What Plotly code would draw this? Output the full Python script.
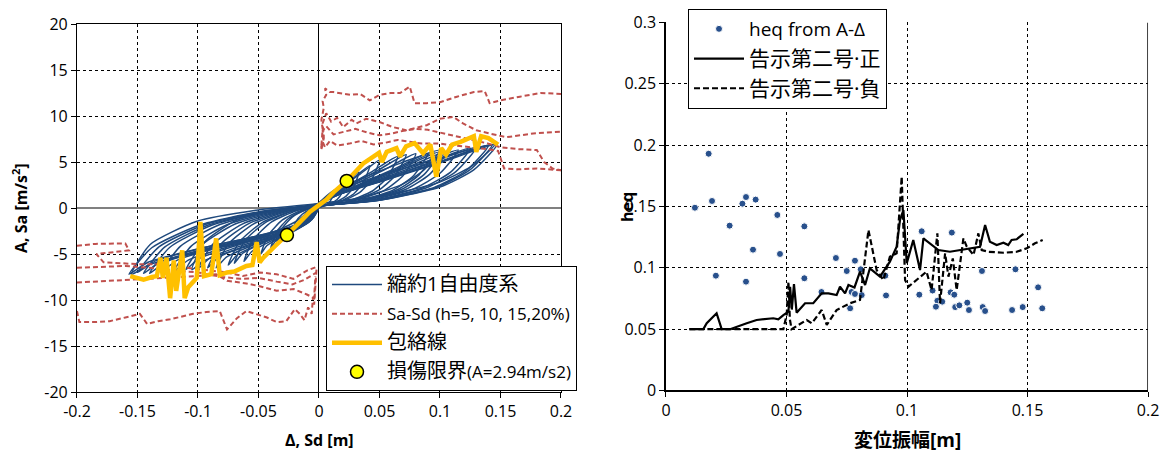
import plotly.graph_objects as go

# ---------------- left panel: A-Δ hysteresis of the reduced SDOF system ----------------
# one list per cycle (displacement [m], acceleration [m/s2])
loop_d = [
    [-0.012, -0.0106, -0.0076, -0.0036, 0, 0.0041, 0.0082, 0.0104, 0.012, 0.0082, 0.0041, 0.0014, 0, -0.0014, -0.0038, -0.0077, -0.0108, -0.012],
    [-0.022, -0.0194, -0.0139, -0.0066, 0, 0.0075, 0.015, 0.0191, 0.022, 0.015, 0.0075, 0.0026, 0, -0.0026, -0.007, -0.0141, -0.0198, -0.022],
    [-0.035, -0.0308, -0.0221, -0.0105, 0, 0.0112, 0.0224, 0.0287, 0.033, 0.0224, 0.0112, 0.004, 0, -0.0042, -0.0112, -0.0224, -0.0315, -0.035],
    [-0.04, -0.0352, -0.0252, -0.012, 0, 0.0143, 0.0286, 0.0365, 0.042, 0.0286, 0.0143, 0.005, 0, -0.0048, -0.0128, -0.0256, -0.036, -0.04],
    [-0.048, -0.0422, -0.0302, -0.0144, 0, 0.017, 0.034, 0.0435, 0.05, 0.034, 0.017, 0.006, 0, -0.0058, -0.0154, -0.0307, -0.0432, -0.048],
    [-0.062, -0.0546, -0.0391, -0.0186, 0, 0.0221, 0.0442, 0.0566, 0.065, 0.0442, 0.0221, 0.0078, 0, -0.0074, -0.0198, -0.0397, -0.0558, -0.062],
    [-0.07, -0.0616, -0.0441, -0.021, 0, 0.0245, 0.049, 0.0626, 0.072, 0.049, 0.0245, 0.0086, 0, -0.0084, -0.0224, -0.0448, -0.063, -0.07],
    [-0.085, -0.0748, -0.0536, -0.0255, 0, 0.0272, 0.0544, 0.0696, 0.08, 0.0544, 0.0272, 0.0096, 0, -0.0102, -0.0272, -0.0544, -0.0765, -0.085],
    [-0.092, -0.081, -0.058, -0.0276, 0, 0.0323, 0.0646, 0.0827, 0.095, 0.0646, 0.0323, 0.0114, 0, -0.011, -0.0294, -0.0589, -0.0828, -0.092],
    [-0.1, -0.088, -0.063, -0.03, 0, 0.034, 0.068, 0.087, 0.1, 0.068, 0.034, 0.012, 0, -0.012, -0.032, -0.064, -0.09, -0.1],
    [-0.105, -0.0945, -0.0683, -0.0315, 0, 0.034, 0.068, 0.087, 0.1, 0.068, 0.034, 0.012, 0, -0.0126, -0.0336, -0.0672, -0.0945, -0.105],
    [-0.12, -0.1056, -0.0756, -0.036, 0, 0.0391, 0.0782, 0.1, 0.115, 0.0782, 0.0391, 0.0138, 0, -0.0144, -0.0384, -0.0768, -0.108, -0.12],
    [-0.14, -0.1232, -0.0882, -0.042, 0, 0.0442, 0.0884, 0.1131, 0.13, 0.0884, 0.0442, 0.0156, 0, -0.0168, -0.0448, -0.0896, -0.126, -0.14],
    [-0.145, -0.1276, -0.0914, -0.0435, 0, 0.0486, 0.0972, 0.1244, 0.143, 0.0972, 0.0486, 0.0172, 0, -0.0174, -0.0464, -0.0928, -0.1305, -0.145],
    [-0.157, -0.1382, -0.0989, -0.0471, 0, 0.05, 0.1, 0.1279, 0.147, 0.1, 0.05, 0.0176, 0, -0.0188, -0.0502, -0.1005, -0.1413, -0.157],
    [-0.155, -0.1395, -0.1008, -0.0465, 0, 0.0493, 0.0986, 0.1262, 0.145, 0.0986, 0.0493, 0.0174, 0, -0.0186, -0.0496, -0.0992, -0.1395, -0.155],
    [-0.15, -0.132, -0.0945, -0.045, 0, 0.0476, 0.0952, 0.1218, 0.14, 0.0952, 0.0476, 0.0168, 0, -0.018, -0.048, -0.096, -0.135, -0.15],
    [-0.13, -0.1144, -0.0819, -0.039, 0, 0.0425, 0.085, 0.1088, 0.125, 0.085, 0.0425, 0.015, 0, -0.0156, -0.0416, -0.0832, -0.117, -0.13],
    [-0.11, -0.0968, -0.0693, -0.033, 0, 0.0357, 0.0714, 0.0914, 0.105, 0.0714, 0.0357, 0.0126, 0, -0.0132, -0.0352, -0.0704, -0.099, -0.11],
    [-0.075, -0.066, -0.0473, -0.0225, 0, 0.0306, 0.0612, 0.0783, 0.09, 0.0612, 0.0306, 0.0108, 0, -0.009, -0.024, -0.048, -0.0675, -0.075],
]
loop_a = [
    [-1.6, -0.96, -0.42, -0.08, 0.07, 0.2, 0.56, 1.02, 1.7, 1.21, 0.7, 0.37, 0.09, -0.4, -0.67, -0.99, -1.31, -1.6],
    [-2.6, -1.56, -0.68, -0.13, 0.11, 0.34, 0.92, 1.68, 2.8, 1.99, 1.15, 0.62, 0.14, -0.65, -1.09, -1.61, -2.13, -2.6],
    [-3.8, -2.28, -0.99, -0.19, 0.16, 0.47, 1.29, 2.34, 3.9, 2.77, 1.6, 0.86, 0.2, -0.95, -1.6, -2.36, -3.12, -3.8],
    [-4.4, -2.64, -1.14, -0.22, 0.18, 0.55, 1.52, 2.76, 4.6, 3.27, 1.89, 1.01, 0.23, -1.1, -1.85, -2.73, -3.61, -4.4],
    [-5.0, -3.0, -1.3, -0.25, 0.21, 0.62, 1.72, 3.12, 5.2, 3.69, 2.13, 1.14, 0.26, -1.25, -2.1, -3.1, -4.1, -5.0],
    [-5.8, -3.48, -1.51, -0.29, 0.22, 0.67, 1.85, 3.36, 5.6, 3.98, 2.3, 1.23, 0.28, -1.45, -2.44, -3.6, -4.76, -5.8],
    [-6.0, -3.6, -1.56, -0.3, 0.23, 0.7, 1.91, 3.48, 5.8, 4.12, 2.38, 1.28, 0.29, -1.5, -2.52, -3.72, -4.92, -6.0],
    [-6.5, -3.9, -1.69, -0.33, 0.24, 0.71, 1.95, 3.54, 5.9, 4.19, 2.42, 1.3, 0.3, -1.63, -2.73, -4.03, -5.33, -6.5],
    [-6.5, -3.9, -1.69, -0.33, 0.24, 0.72, 1.98, 3.6, 6.0, 4.26, 2.46, 1.32, 0.3, -1.63, -2.73, -4.03, -5.33, -6.5],
    [-6.6, -3.96, -1.72, -0.33, 0.24, 0.73, 2.01, 3.66, 6.1, 4.33, 2.5, 1.34, 0.31, -1.65, -2.77, -4.09, -5.41, -6.6],
    [-6.7, -3.69, -1.34, -0.13, 0.45, 1.13, 2.52, 4.16, 6.3, 4.91, 3.15, 1.89, 0.55, -1.34, -3.02, -4.49, -5.7, -6.7],
    [-6.9, -4.14, -1.79, -0.35, 0.25, 0.76, 2.08, 3.78, 6.3, 4.47, 2.58, 1.39, 0.32, -1.73, -2.9, -4.28, -5.66, -6.9],
    [-7.1, -4.26, -1.85, -0.36, 0.26, 0.79, 2.18, 3.96, 6.6, 4.69, 2.71, 1.45, 0.33, -1.78, -2.98, -4.4, -5.82, -7.1],
    [-7.1, -4.26, -1.85, -0.36, 0.27, 0.82, 2.26, 4.11, 6.85, 4.86, 2.81, 1.51, 0.34, -1.78, -2.98, -4.4, -5.82, -7.1],
    [-7.2, -4.32, -1.87, -0.36, 0.28, 0.83, 2.28, 4.14, 6.9, 4.9, 2.83, 1.52, 0.35, -1.8, -3.02, -4.46, -5.9, -7.2],
    [-7.2, -3.96, -1.44, -0.14, 0.5, 1.24, 2.76, 4.55, 6.9, 5.38, 3.45, 2.07, 0.6, -1.44, -3.24, -4.82, -6.12, -7.2],
    [-7.0, -4.2, -1.82, -0.35, 0.27, 0.82, 2.24, 4.08, 6.8, 4.83, 2.79, 1.5, 0.34, -1.75, -2.94, -4.34, -5.74, -7.0],
    [-6.9, -4.14, -1.79, -0.35, 0.26, 0.78, 2.15, 3.9, 6.5, 4.62, 2.67, 1.43, 0.33, -1.73, -2.9, -4.28, -5.66, -6.9],
    [-6.7, -4.02, -1.74, -0.34, 0.24, 0.73, 2.01, 3.66, 6.1, 4.33, 2.5, 1.34, 0.31, -1.68, -2.81, -4.15, -5.49, -6.7],
    [-6.2, -3.72, -1.61, -0.31, 0.24, 0.71, 1.95, 3.54, 5.9, 4.19, 2.42, 1.3, 0.3, -1.55, -2.6, -3.84, -5.08, -6.2],
]

# Sa-Sd response spectra (h = 5, 10, 15, 20 %), positive and negative sides: (Sd, Sa)
sasd_pos_h05 = [(0.002, 6.8), (0.003, 8.6), (0.002, 9.6), (0.004, 10.9), (0.003, 11.6), (0.006, 12.3), (0.005, 13.0),
                (0.009, 12.6), (0.012, 12.6), (0.02, 12.4), (0.026, 12.3), (0.034, 12.4), (0.042, 11.7), (0.05, 12.3),
                (0.059, 12.5), (0.067, 12.5), (0.075, 13.2), (0.079, 11.4), (0.089, 11.4), (0.1, 11.5), (0.114, 12.1),
                (0.128, 12.6), (0.137, 12.7), (0.141, 11.4), (0.15, 11.7), (0.166, 12.1), (0.183, 12.5), (0.2, 12.4)]
sasd_pos_h10 = [(0.002, 6.6), (0.004, 8.0), (0.003, 9.2), (0.006, 10.3), (0.01, 9.4), (0.015, 9.8), (0.02, 8.8),
                (0.027, 9.6), (0.031, 9.2), (0.039, 9.7), (0.05, 9.35), (0.061, 8.8), (0.072, 8.45), (0.089, 9.0),
                (0.1, 9.7), (0.111, 9.9), (0.119, 9.2), (0.13, 8.45), (0.141, 8.1), (0.155, 7.7), (0.177, 8.1), (0.2, 8.3)]
sasd_pos_h15 = [(0.002, 6.5), (0.004, 7.6), (0.003, 8.4), (0.006, 8.9), (0.012, 8.0), (0.02, 8.3), (0.03, 8.6),
                (0.04, 8.2), (0.05, 7.9), (0.06, 8.1), (0.07, 8.4), (0.08, 8.6), (0.09, 8.5), (0.1, 8.2), (0.11, 7.9),
                (0.12, 7.6), (0.13, 7.3), (0.14, 7.0), (0.15, 6.6), (0.165, 6.4), (0.18, 6.3), (0.186, 5.0),
                (0.193, 4.3), (0.2, 4.1)]
sasd_pos_h20 = [(0.002, 6.4), (0.003, 7.2), (0.005, 6.6), (0.009, 7.3), (0.015, 6.8), (0.025, 7.0), (0.035, 7.3),
                (0.045, 6.9), (0.055, 7.1), (0.065, 7.4), (0.075, 7.2), (0.085, 7.0), (0.1, 7.0), (0.11, 6.8),
                (0.12, 6.7), (0.13, 6.5), (0.14, 6.4), (0.148, 6.2), (0.153, 4.3), (0.165, 4.2), (0.18, 4.3), (0.2, 4.1)]
sasd_neg_h05 = [(-0.2, -11.2), (-0.198, -12.4), (-0.185, -12.4), (-0.173, -12.3), (-0.16, -11.9), (-0.148, -11.5),
                (-0.142, -12.6), (-0.133, -12.3), (-0.123, -12.1), (-0.113, -11.8), (-0.104, -11.5), (-0.093, -11.3),
                (-0.082, -11.2), (-0.076, -13.2), (-0.068, -12.0), (-0.06, -11.2), (-0.052, -11.5), (-0.043, -11.9),
                (-0.035, -12.4), (-0.027, -12.3), (-0.02, -11.0), (-0.016, -11.5), (-0.012, -12.2), (-0.009, -10.8),
                (-0.006, -11.5), (-0.005, -9.7), (-0.004, -10.5), (-0.003, -8.0), (-0.002, -6.6)]
sasd_neg_h10 = [(-0.2, -8.1), (-0.173, -7.9), (-0.145, -7.7), (-0.123, -7.6), (-0.1, -7.4), (-0.085, -7.2),
                (-0.076, -7.9), (-0.06, -8.2), (-0.049, -8.5), (-0.035, -9.0), (-0.021, -8.8), (-0.01, -9.4),
                (-0.004, -9.8), (-0.003, -7.4)]
sasd_neg_h15 = [(-0.2, -6.5), (-0.18, -6.4), (-0.16, -6.3), (-0.14, -6.5), (-0.12, -6.8), (-0.1, -7.0),
                (-0.08, -7.5), (-0.065, -7.7), (-0.05, -7.6), (-0.035, -8.0), (-0.022, -8.3), (-0.012, -7.8),
                (-0.005, -7.3), (-0.002, -7.0)]
sasd_neg_h20 = [(-0.2, -4.1), (-0.185, -3.9), (-0.16, -3.85), (-0.157, -4.6), (-0.17, -4.8), (-0.184, -5.0),
                (-0.178, -5.9), (-0.165, -6.0), (-0.15, -6.1), (-0.13, -6.1), (-0.115, -6.4), (-0.104, -6.6),
                (-0.09, -6.8), (-0.076, -7.0), (-0.063, -7.4), (-0.049, -7.0), (-0.035, -7.2), (-0.021, -7.7),
                (-0.01, -6.8), (-0.005, -6.6), (-0.002, -6.4)]
sasd_curves = [sasd_pos_h05, sasd_pos_h10, sasd_pos_h15, sasd_pos_h20,
               sasd_neg_h05, sasd_neg_h10, sasd_neg_h15, sasd_neg_h20]

# envelope of the A-Δ response (Δ, A)
envelope = [(-0.156, -7.4), (-0.145, -7.8), (-0.138, -7.5), (-0.134, -7.4), (-0.131, -5.4), (-0.129, -7.6),
            (-0.126, -5.4), (-0.123, -9.8), (-0.12, -5.7), (-0.118, -9.0), (-0.113, -4.6), (-0.111, -9.8),
            (-0.108, -8.6), (-0.105, -8.1), (-0.101, -7.6), (-0.098, -1.5), (-0.095, -7.4), (-0.089, -7.2),
            (-0.085, -3.3), (-0.082, -7.3), (-0.076, -7.0), (-0.07, -6.9), (-0.065, -6.6), (-0.06, -6.3),
            (-0.055, -6.2), (-0.0515, -3.7), (-0.049, -5.9), (-0.046, -5.4), (-0.036, -4.1), (-0.0265, -2.94),
            (-0.017, -1.7), (-0.0074, -0.4), (0.0, 0.3), (0.006, 0.9), (0.012, 1.7), (0.0229, 2.94),
            (0.0366, 4.85), (0.0496, 6.0), (0.052, 5.0), (0.056, 6.1), (0.064, 6.5), (0.067, 5.6), (0.072, 6.7),
            (0.079, 7.05), (0.086, 5.95), (0.092, 6.9), (0.097, 3.4), (0.101, 6.5), (0.105, 5.8), (0.11, 6.9),
            (0.117, 7.2), (0.128, 7.8), (0.13, 6.1), (0.134, 7.8), (0.14, 7.6), (0.148, 6.9)]

# damage limit points (A = 2.94 m/s2)
damage_d = [-0.0265, 0.0229]
damage_a = [-2.94, 2.94]

left_xticks = [-0.2, -0.15, -0.1, -0.05, 0, 0.05, 0.1, 0.15, 0.2]
left_xlabels = ["-0.2", "-0.15", "-0.1", "-0.05", "0", "0.05", "0.1", "0.15", "0.2"]
left_yticks = [-20, -15, -10, -5, 0, 5, 10, 15, 20]
left_ylabels = ["-20", "-15", "-10", "-5", "0", "5", "10", "15", "20"]

# ---------------- right panel: equivalent damping vs. displacement amplitude ----------------
heq_points = [(0.012, 0.149), (0.0177, 0.193), (0.0191, 0.1545), (0.0207, 0.0936), (0.0264, 0.1344),
              (0.0317, 0.1523), (0.0332, 0.1577), (0.0332, 0.0887), (0.0361, 0.1148), (0.0372, 0.1556),
              (0.0462, 0.1431), (0.0473, 0.1113), (0.0574, 0.1338), (0.0574, 0.0915), (0.0645, 0.0803),
              (0.0705, 0.108), (0.075, 0.0974), (0.0764, 0.067), (0.077, 0.0803), (0.0784, 0.1058),
              (0.0784, 0.0787), (0.0808, 0.0988), (0.0812, 0.0778), (0.091, 0.0936), (0.0913, 0.0775),
              (0.1061, 0.1298), (0.1051, 0.0781), (0.1106, 0.0815), (0.1126, 0.0731), (0.112, 0.0683),
              (0.1146, 0.0724), (0.1186, 0.1287), (0.1181, 0.08), (0.1196, 0.0781), (0.12, 0.068),
              (0.1217, 0.0694), (0.125, 0.0716), (0.1257, 0.0656), (0.1311, 0.0974), (0.1314, 0.068),
              (0.1324, 0.0648), (0.1436, 0.0656), (0.145, 0.0988), (0.148, 0.068), (0.1544, 0.0841),
              (0.1561, 0.067)]
kokuji_pos = [(0.0097, 0.05), (0.0155, 0.05), (0.0169, 0.0548), (0.021, 0.063), (0.0231, 0.05), (0.0266, 0.05),
              (0.0335, 0.0548), (0.0376, 0.0575), (0.0445, 0.0589), (0.0466, 0.058), (0.0487, 0.0615),
              (0.0508, 0.0642), (0.0515, 0.0846), (0.0522, 0.066), (0.0531, 0.0868), (0.0542, 0.0634),
              (0.0577, 0.0711), (0.0611, 0.0711), (0.0646, 0.0792), (0.0674, 0.0792), (0.0708, 0.0778),
              (0.0722, 0.0846), (0.0743, 0.0792), (0.0757, 0.086), (0.0782, 0.084), (0.0805, 0.0969),
              (0.0826, 0.086), (0.0846, 0.0996), (0.0888, 0.0928), (0.0929, 0.105), (0.0957, 0.1172),
              (0.0971, 0.139), (0.0985, 0.1471), (0.0999, 0.1037), (0.1026, 0.1227), (0.1054, 0.0982),
              (0.1068, 0.124), (0.113, 0.1145), (0.1178, 0.1131), (0.1303, 0.1172), (0.1324, 0.1349),
              (0.1344, 0.1213), (0.1372, 0.1186), (0.14, 0.1205), (0.142, 0.1186), (0.1434, 0.1227),
              (0.1455, 0.1233), (0.1483, 0.1276)]
kokuji_neg = [(0.0097, 0.05), (0.0487, 0.05), (0.0501, 0.062), (0.0508, 0.0887), (0.0514, 0.058), (0.0521, 0.05),
              (0.0584, 0.0575), (0.0605, 0.0548), (0.0646, 0.0656), (0.0667, 0.0534), (0.0708, 0.0656),
              (0.0763, 0.0711), (0.0805, 0.0738), (0.084, 0.1308), (0.0874, 0.0982), (0.0902, 0.0901),
              (0.0929, 0.109), (0.0957, 0.1118), (0.0978, 0.1743), (0.0992, 0.0901), (0.1006, 0.0846),
              (0.1081, 0.0969), (0.1102, 0.0819), (0.1126, 0.1281), (0.1137, 0.0711), (0.1158, 0.1118),
              (0.1172, 0.0928), (0.119, 0.1077), (0.1206, 0.0819), (0.1234, 0.124), (0.1248, 0.1172),
              (0.1276, 0.1105), (0.1296, 0.1281), (0.131, 0.1145), (0.1338, 0.1131), (0.14, 0.1123),
              (0.1455, 0.1131), (0.1497, 0.1159), (0.1531, 0.12), (0.1563, 0.1227)]

right_xticks = [0, 0.05, 0.1, 0.15, 0.2]
right_xlabels = ["0", "0.05", "0.1", "0.15", "0.2"]
right_yticks = [0, 0.05, 0.1, 0.15, 0.2, 0.25, 0.3]
right_ylabels = ["0", "0.05", "0.1", "0.15", "0.2", "0.25", "0.3"]

# ---------------- styling ----------------
FONT = "'Open Sans', 'Noto Sans CJK JP', sans-serif"
BLUE = "#1F497D"
RED = "#C0504D"
GOLD = "#FFC000"
DOT = "#28508C"


def unzip(pairs):
    return [p[0] for p in pairs], [p[1] for p in pairs]


def cjk(text, size=20):
    return f"<span style='font-size:{size}px'>{text}</span>"


fig = go.Figure()

# hysteresis loops, cycles separated by gaps
hx, hy = [], []
for cd, ca in zip(loop_d, loop_a):
    hx += cd + [None]
    hy += ca + [None]
fig.add_trace(go.Scatter(x=hx, y=hy, mode="lines", name=cjk("縮約1自由度系"),
                         line=dict(color=BLUE, width=1.5, shape="spline", smoothing=0.6),
                         legend="legend", legendgroup="g1", xaxis="x", yaxis="y"))

for i, curve in enumerate(sasd_curves):
    cx, cy = unzip(curve)
    fig.add_trace(go.Scatter(x=cx, y=cy, mode="lines", name="Sa-Sd (h=5, 10, 15,20%)",
                             line=dict(color=RED, width=2, dash="5px,3px"),
                             legend="legend", legendgroup="g2", showlegend=(i == 0),
                             xaxis="x", yaxis="y"))

ex, ey = unzip(envelope)
fig.add_trace(go.Scatter(x=ex, y=ey, mode="lines", name=cjk("包絡線"),
                         line=dict(color=GOLD, width=4.5),
                         legend="legend", legendgroup="g3", xaxis="x", yaxis="y"))

fig.add_trace(go.Scatter(x=damage_d, y=damage_a, mode="markers",
                         name=cjk("損傷限界") + "(A=2.94m/s2)",
                         marker=dict(color="#FFFF00", size=13, line=dict(color="black", width=1.5)),
                         legend="legend", legendgroup="g4", xaxis="x", yaxis="y"))

# right panel traces
px_, py_ = unzip(heq_points)
fig.add_trace(go.Scatter(x=px_, y=py_, mode="markers", name="heq from A-Δ",
                         marker=dict(color=DOT, size=7, line=dict(color="white", width=1)),
                         legend="legend2", legendgroup="r1", xaxis="x2", yaxis="y2"))
kx, ky = unzip(kokuji_pos)
fig.add_trace(go.Scatter(x=kx, y=ky, mode="lines", name=cjk("告示第二号·正", 21),
                         line=dict(color="black", width=2.2),
                         legend="legend2", legendgroup="r2", xaxis="x2", yaxis="y2"))
nx, ny = unzip(kokuji_neg)
fig.add_trace(go.Scatter(x=nx, y=ny, mode="lines", name=cjk("告示第二号·負", 21),
                         line=dict(color="black", width=2.2, dash="6px,3px"),
                         legend="legend2", legendgroup="r3", xaxis="x2", yaxis="y2"))

grid = dict(showgrid=True, gridcolor="black", gridwidth=1, griddash="3px,3px", automargin=False)
tickfont = dict(family=FONT, size=16, color="black")

fig.update_layout(
    width=1168, height=460, autosize=False,
    margin=dict(l=0, r=0, t=0, b=0, autoexpand=False),
    paper_bgcolor="white", plot_bgcolor="white",
    font=dict(family=FONT, size=16, color="black"),
    xaxis=dict(domain=[0.0659, 0.4803], range=[-0.2, 0.2], anchor="y",
               tickmode="array", tickvals=left_xticks, ticktext=left_xlabels, tickfont=tickfont,
               ticks="outside", ticklen=5, tickcolor="black",
               zeroline=True, zerolinecolor="black", zerolinewidth=1,
               showline=True, mirror=True, linecolor="black", linewidth=1, **grid),
    yaxis=dict(domain=[0.1478, 0.9478], range=[-20, 20], anchor="x",
               tickmode="array", tickvals=left_yticks, ticktext=left_ylabels, tickfont=tickfont,
               ticks="outside", ticklen=5, tickcolor="black",
               zeroline=True, zerolinecolor="#808080", zerolinewidth=2,
               showline=True, mirror=True, linecolor="black", linewidth=1, **grid),
    xaxis2=dict(domain=[0.5702, 0.9829], range=[0, 0.2], anchor="y2",
                tickmode="array", tickvals=right_xticks, ticktext=right_xlabels, tickfont=tickfont,
                ticks="outside", ticklen=5, tickcolor="black", zeroline=False,
                showline=True, mirror=False, linecolor="black", linewidth=1.5, **grid),
    yaxis2=dict(domain=[0.1511, 0.9511], range=[0, 0.3], anchor="x2",
                tickmode="array", tickvals=right_yticks, ticktext=right_ylabels, tickfont=tickfont,
                ticks="outside", ticklen=5, tickcolor="black", zeroline=False,
                showline=True, mirror=False, linecolor="black", linewidth=1.5, **grid),
    legend=dict(x=326 / 1168, y=1 - 266 / 460, xanchor="left", yanchor="top",
                bgcolor="white", bordercolor="black", borderwidth=1,
                font=dict(family=FONT, size=17), tracegroupgap=4, itemwidth=50),
    legend2=dict(x=688 / 1168, y=1 - 9 / 460, xanchor="left", yanchor="top",
                 bgcolor="white", bordercolor="black", borderwidth=1,
                 font=dict(family=FONT, size=19), tracegroupgap=2, itemwidth=50),
    shapes=[dict(type="line", xref="x2", yref="y2", x0=0.2, x1=0.2, y0=0, y1=0.3,
                 line=dict(color="black", width=1.5))],
    annotations=[
        dict(text="<b>A, Sa [m/s<sup>2</sup>]</b>", xref="paper", yref="paper",
             x=20 / 1168, y=1 - 208 / 460, xanchor="center", yanchor="middle",
             textangle=-90, showarrow=False, font=dict(family=FONT, size=16)),
        dict(text="<b>Δ, Sd [m]</b>", xref="paper", yref="paper",
             x=319 / 1168, y=1 - 440 / 460, xanchor="center", yanchor="middle",
             showarrow=False, font=dict(family=FONT, size=16)),
        dict(text="<b>heq</b>", xref="paper", yref="paper",
             x=627 / 1168, y=1 - 207 / 460, xanchor="center", yanchor="middle",
             textangle=-90, showarrow=False, font=dict(family=FONT, size=16)),
        dict(text="<b>変位振幅[m]</b>", xref="paper", yref="paper",
             x=907 / 1168, y=1 - 440 / 460, xanchor="center", yanchor="middle",
             showarrow=False, font=dict(family=FONT, size=19)),
    ],
)

fig.write_html("out.html")
